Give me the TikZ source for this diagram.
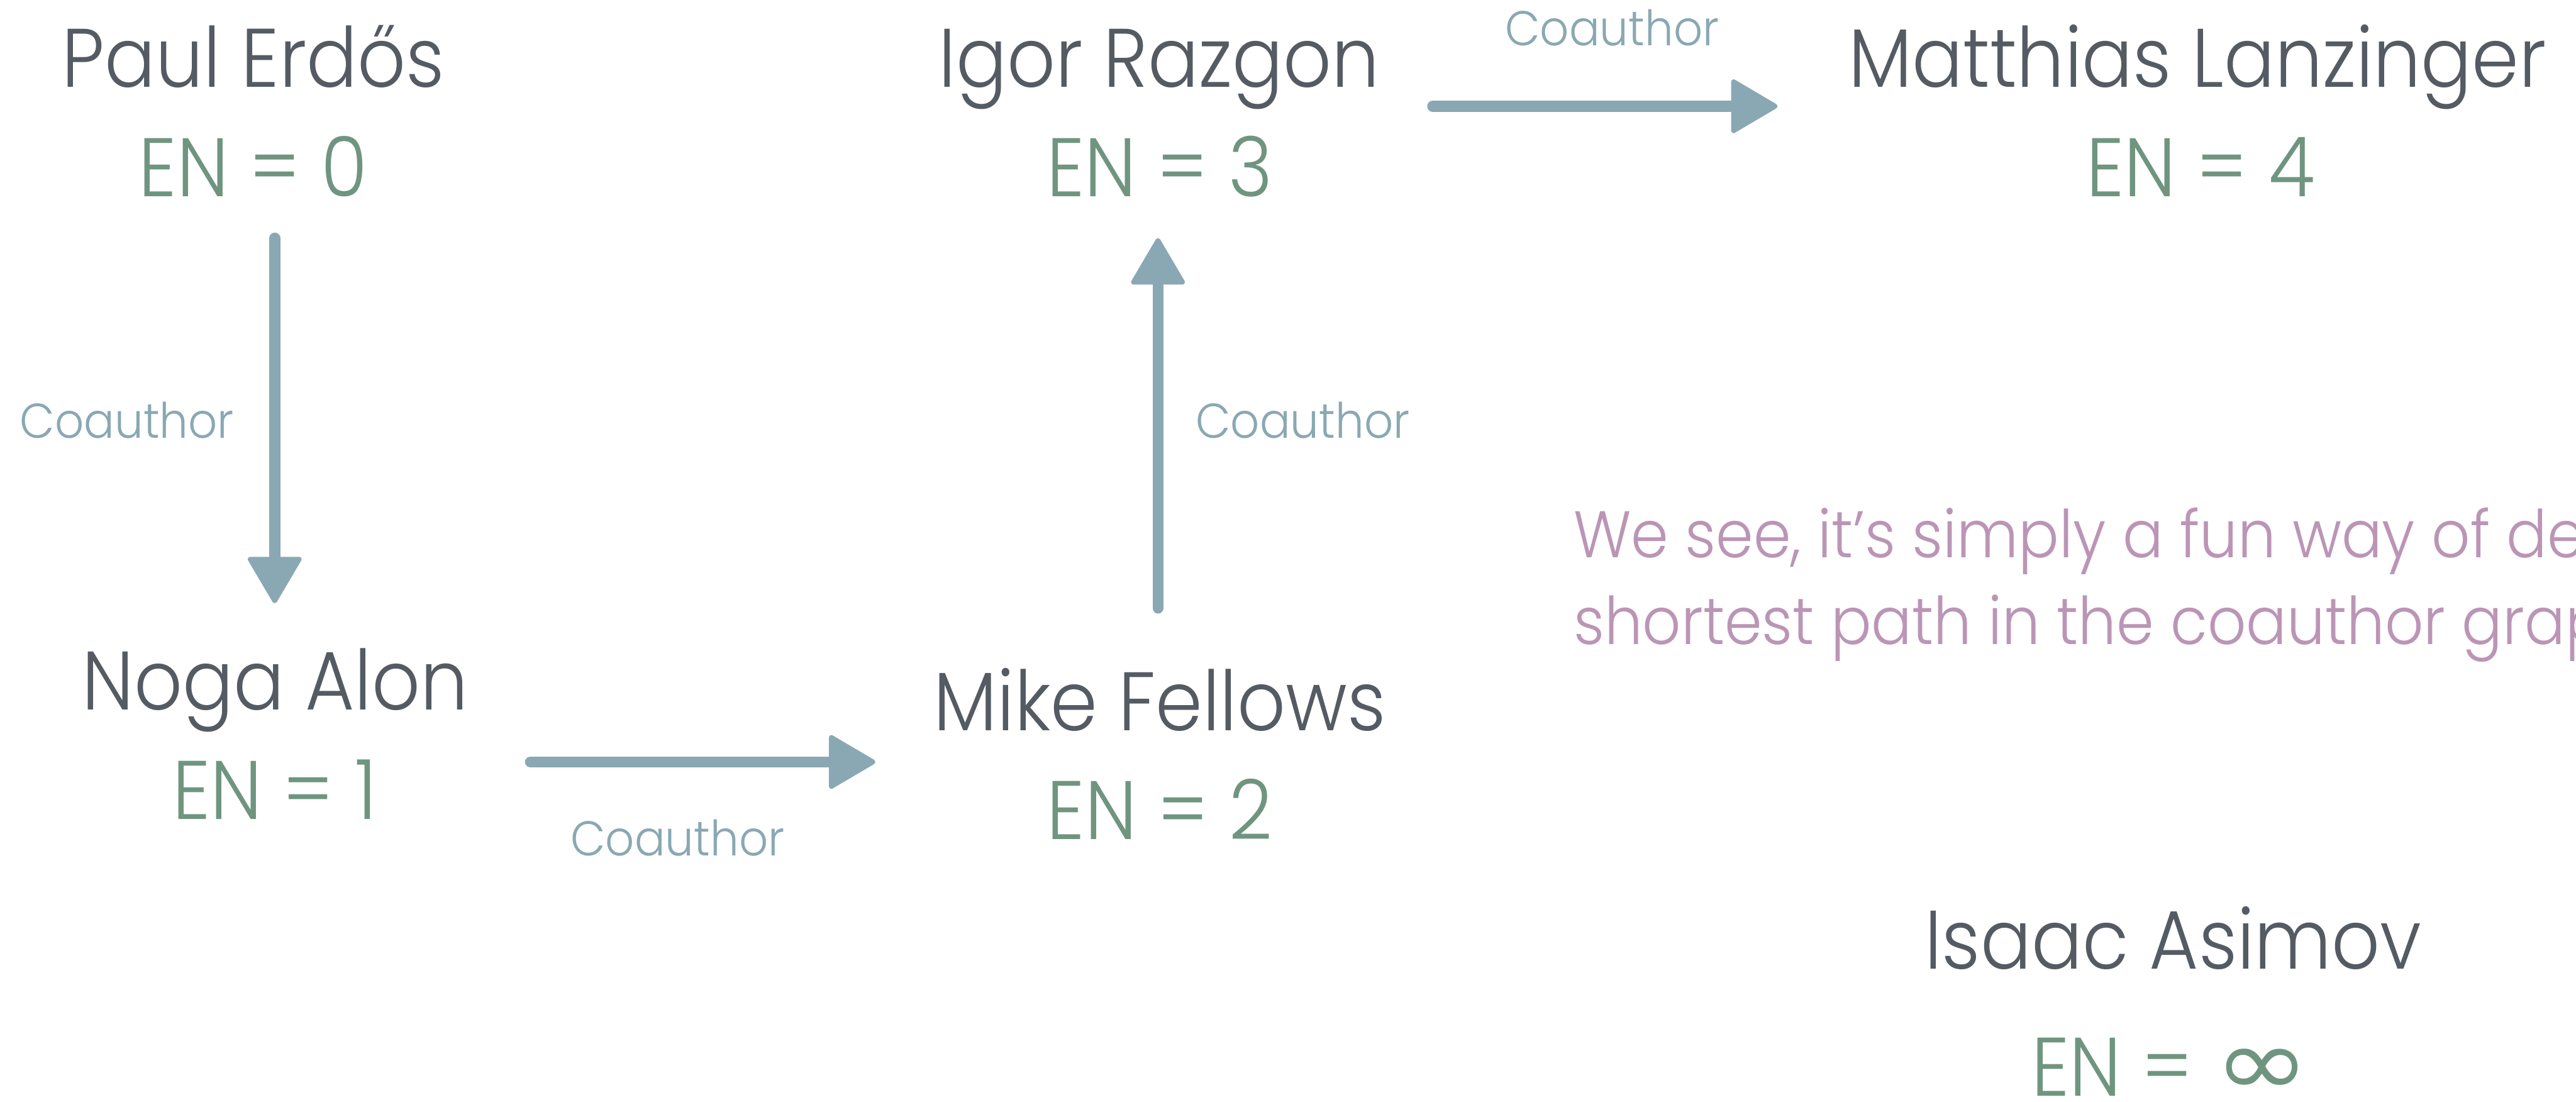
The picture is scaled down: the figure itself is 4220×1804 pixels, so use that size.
\documentclass[tikz,border=0pt]{standalone}
\usepackage{fontspec}
\usetikzlibrary{arrows.meta}
\newfontfamily\namefont{Poppins Light}[FakeStretch=0.91]
\newfontfamily\labelfont{Poppins Light}[FakeStretch=0.93]
\newfontfamily\notefont{Poppins Light}[FakeStretch=0.915]
\newfontfamily\symfont{DejaVu Sans}
\definecolor{namegray}{HTML}{555B63}
\definecolor{engreen}{HTML}{6F9580}
\definecolor{linkblue}{HTML}{89A8B3}
\definecolor{notepurple}{HTML}{BB95B6}
\tikzset{
  person/.style={font=\namefont\fontsize{34}{40}\selectfont, text=namegray, inner sep=0pt, anchor=base},
  ennum/.style={font=\namefont\fontsize{34}{40}\selectfont, text=engreen, inner sep=0pt, anchor=base},
  coauth/.style={font=\labelfont\fontsize{20}{24}\selectfont, text=linkblue, inner sep=0pt, anchor=base},
  remark/.style={font=\notefont\fontsize{27}{35}\selectfont, text=notepurple, inner sep=0pt, anchor=base west},
  link/.style={draw=linkblue, line width=4.5pt, line cap=round,
    -{Triangle[length=20pt, width=23pt, line width=2pt, round]}}
}
\begin{document}
\begin{tikzpicture}[x=0.25pt, y=-0.25pt]
\useasboundingbox (0,0) rectangle (4220,1804);
\fill[white] (0,0) rectangle (4220,1804);
\clip (0,0) rectangle (4220,1804);

% people and their Erdős numbers
\node[person] (erdos)    at (415,143)  {Paul Erdős};
\node[ennum]  (erdosEN)  at (415,322)  {EN = 0};
\node[person] (alon)     at (451,1163) {Noga Alon};
\node[ennum]  (alonEN)   at (450,1342) {EN = 1};
\node[person] (fellows)  at (1900,1197) {Mike Fellows};
\node[ennum]  (fellowsEN) at (1900,1375) {EN = 2};
\node[person] (razgon)   at (1899,143) {Igor Razgon};
\node[ennum]  (razgonEN) at (1900,322) {EN = 3};
\node[person] (lanz)     at (3600,143) {Matthias Lanzinger};
\node[ennum]  (lanzEN)   at (3605,322) {EN = 4};
\node[person] (asimov)   at (3560,1587) {Isaac Asimov};
\node[ennum]  (asimovEN) at (3556,1795) {EN = {\symfont\fontsize{45}{50}\selectfont\raisebox{0pt}[\height][0pt]{\scalebox{1.05}[0.88]{∞}}}};

% coauthor links
\draw[link] ([shift={(35,68)}]erdosEN.base) -- ([shift={(-1,-175)}]alon.base);
\draw[link] ([shift={(418,85)}]alon.base) -- ([shift={(-466,51)}]fellows.base);
\draw[link] ([shift={(-3,-201)}]fellows.base) -- ([shift={(-3,68)}]razgonEN.base);
\draw[link] ([shift={(448,31)}]razgon.base) -- ([shift={(-688,31)}]lanz.base);

\node[coauth] (c1) at (208,718)  {Coauthor};
\node[coauth] (c2) at (1110,1402) {Coauthor};
\node[coauth] (c3) at (2134,718) {Coauthor};
\node[coauth] (c4) at (2641,75)  {Coauthor};

% side remark
\node[remark] (note1) at (2577,913)  {We see, it’s simply a fun way of de};
\node[remark] (note2) at (2577,1055) {shortest path in the coauthor grap};
\end{tikzpicture}
\end{document}
